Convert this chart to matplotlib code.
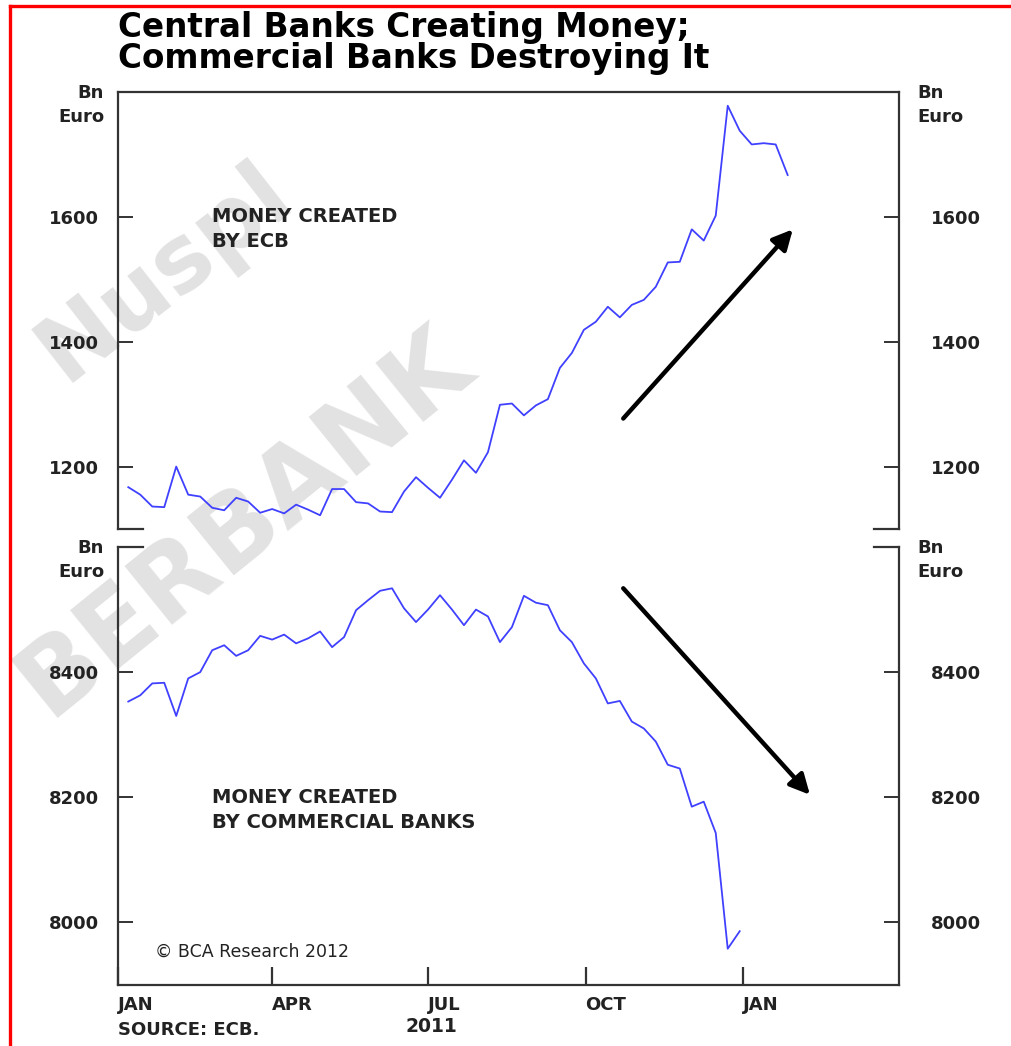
import numpy as np
import pandas as pd
import matplotlib
matplotlib.use("Agg")
import matplotlib.pyplot as plt
import matplotlib.dates as mdates
from matplotlib.lines import Line2D

# weekly readings, Bn Euro
ecb_money = [1167, 1155, 1136, 1135, 1200, 1155, 1152, 1134, 1130, 1150,
             1144, 1126, 1132, 1125, 1139, 1131, 1122, 1164, 1164, 1143,
             1141, 1128, 1127, 1160, 1183, 1166, 1150, 1179, 1210, 1190,
             1223, 1299, 1301, 1282, 1298, 1308, 1358, 1382, 1419, 1432,
             1456, 1439, 1459, 1467, 1488, 1527, 1528, 1580, 1562, 1602,
             1778, 1738, 1716, 1718, 1716, 1667]
bank_money = [8353, 8363, 8382, 8383, 8330, 8390, 8400, 8435, 8443, 8426,
              8435, 8458, 8452, 8460, 8446, 8454, 8465, 8440, 8456, 8499,
              8515, 8530, 8534, 8502, 8480, 8500, 8523, 8500, 8475, 8500,
              8489, 8448, 8472, 8522, 8511, 8507, 8467, 8448, 8414, 8390,
              8350, 8354, 8321, 8310, 8289, 8252, 8246, 8185, 8193, 8143,
              7958, 7986]
ecb_dates = pd.date_range("2011-01-07", periods=len(ecb_money), freq="7D")
bank_dates = pd.date_range("2011-01-07", periods=len(bank_money), freq="7D")

tick_dates = ["2011-01-01", "2011-04-01", "2011-07-01", "2011-10-01", "2012-01-01"]
tick_labels = ["JAN", "APR", "JUL", "OCT", "JAN"]
x_start, x_end = "2011-01-01", "2012-04-01"

# trend arrows: (start date, start value) -> (end date, end value)
up_arrow = (("2011-10-23", 1277), ("2012-01-30", 1580))
down_arrow = (("2011-10-23", 8534), ("2012-02-09", 8204))

W, H = 1011, 1046
blue = "#4040ff"
ink = "#222222"
spine_c = "#333333"


def d(s):
    return mdates.date2num(pd.Timestamp(s))


def fx(px):
    return px / W


def fy(py):
    return 1 - py / H


fig = plt.figure(figsize=(W / 100, H / 100), dpi=100)

# watermark
fig.text(fx(165), fy(272), "Nuspl", fontsize=66, fontweight="bold", color="#e2e2e2",
         rotation=38, ha="center", va="center", rotation_mode="anchor", zorder=-5)
fig.text(fx(245), fy(522), "BERBANK", fontsize=74, fontweight="bold", color="#e2e2e2",
         rotation=39, ha="center", va="center", rotation_mode="anchor", zorder=-5)

# red frame
fig.add_artist(Line2D([fx(10), fx(10)], [0, fy(6)], color="red", lw=2.4))
fig.add_artist(Line2D([fx(10), 1], [fy(6), fy(6)], color="red", lw=2.4))

fig.text(fx(118), fy(28), "Central Banks Creating Money;", fontsize=23.5, fontweight="bold",
         color="black", ha="left", va="center")
fig.text(fx(118), fy(59), "Commercial Banks Destroying It", fontsize=23.5, fontweight="bold",
         color="black", ha="left", va="center")

ax1 = fig.add_axes([fx(118), fy(529), 781 / W, 437 / H])
ax2 = fig.add_axes([fx(118), fy(985), 781 / W, 438 / H])


def style(ax, ylim, yticks, top_panel):
    ax.patch.set_alpha(0)
    ax.set_xlim(d(x_start), d(x_end))
    ax.set_ylim(*ylim)
    ax.set_yticks(yticks)
    ax.set_yticklabels([str(t) for t in yticks])
    for s in ax.spines.values():
        s.set_color(spine_c)
        s.set_linewidth(1.6)
    ax.tick_params(axis="y", direction="in", length=11, width=1.4, color=spine_c,
                   labelsize=13, labelcolor=ink, pad=14)
    for lab in ax.get_yticklabels():
        lab.set_fontweight("bold")
    rx = ax.twinx()
    rx.set_ylim(*ylim)
    rx.set_yticks(yticks)
    rx.set_yticklabels([str(t) for t in yticks])
    for s in rx.spines.values():
        s.set_visible(False)
    rx.tick_params(axis="y", direction="in", length=11, width=1.4, color=spine_c,
                   labelsize=13, labelcolor=ink, pad=23)
    for lab in rx.get_yticklabels():
        lab.set_fontweight("bold")
    # open edge with short stubs
    edge = "bottom" if top_panel else "top"
    yy = 0 if top_panel else 1
    ax.spines[edge].set_visible(False)
    for x0, x1 in [(0, 0.032), (0.968, 1)]:
        ax.plot([x0, x1], [yy, yy], transform=ax.transAxes, color=spine_c, lw=1.6,
                clip_on=False, solid_capstyle="projecting")


style(ax1, (1100, 1800), [1200, 1400, 1600], True)
style(ax2, (7900, 8600), [8000, 8200, 8400], False)

ax1.plot(ecb_dates, ecb_money, color=blue, lw=1.3)
ax2.plot(bank_dates, bank_money, color=blue, lw=1.3)
ax1.set_xlim(d(x_start), d(x_end))
ax2.set_xlim(d(x_start), d(x_end))

ax1.tick_params(axis="x", bottom=False, labelbottom=False)
ax2.set_xticks([d(t) for t in tick_dates])
ax2.set_xticklabels(tick_labels)
ax2.tick_params(axis="x", direction="in", length=13, width=1.6, color=spine_c,
                labelsize=13, labelcolor=ink, pad=8)
for lab in ax2.get_xticklabels():
    lab.set_fontweight("bold")
    lab.set_horizontalalignment("left")

for (s0, v0), (s1, v1), ax in [(up_arrow[0], up_arrow[1], ax1),
                               (down_arrow[0], down_arrow[1], ax2)]:
    ax.annotate("", xy=(d(s1), v1), xytext=(d(s0), v0),
                arrowprops=dict(arrowstyle="-|>", lw=3.2, color="black",
                                mutation_scale=30, shrinkA=0, shrinkB=0))

# panel notes
ax1.text(0.120, 0.714, "MONEY CREATED", transform=ax1.transAxes, fontsize=14,
         fontweight="bold", color=ink, va="center")
ax1.text(0.120, 0.657, "BY ECB", transform=ax1.transAxes, fontsize=14,
         fontweight="bold", color=ink, va="center")
ax2.text(0.120, 0.429, "MONEY CREATED", transform=ax2.transAxes, fontsize=14,
         fontweight="bold", color=ink, va="center")
ax2.text(0.120, 0.372, "BY COMMERCIAL BANKS", transform=ax2.transAxes, fontsize=14,
         fontweight="bold", color=ink, va="center")
ax2.text(0.047, 0.075, "© BCA Research 2012", transform=ax2.transAxes, fontsize=12.5,
         color=ink, va="center")

# unit labels
for top in (92, 547):
    fig.text(fx(104), fy(top + 1), "Bn", fontsize=13, fontweight="bold", color=ink,
             ha="right", va="center")
    fig.text(fx(104), fy(top + 25), "Euro", fontsize=13, fontweight="bold", color=ink,
             ha="right", va="center")
    fig.text(fx(917), fy(top + 1), "Bn", fontsize=13, fontweight="bold", color=ink,
             ha="left", va="center")
    fig.text(fx(917), fy(top + 25), "Euro", fontsize=13, fontweight="bold", color=ink,
             ha="left", va="center")

fig.text(fx(118), fy(1030), "SOURCE: ECB.", fontsize=13, fontweight="bold", color=ink,
         ha="left", va="center")
fig.text(fx(431), fy(1027), "2011", fontsize=13.5, fontweight="bold", color=ink,
         ha="center", va="center")

fig.savefig("out.png", dpi=100)
